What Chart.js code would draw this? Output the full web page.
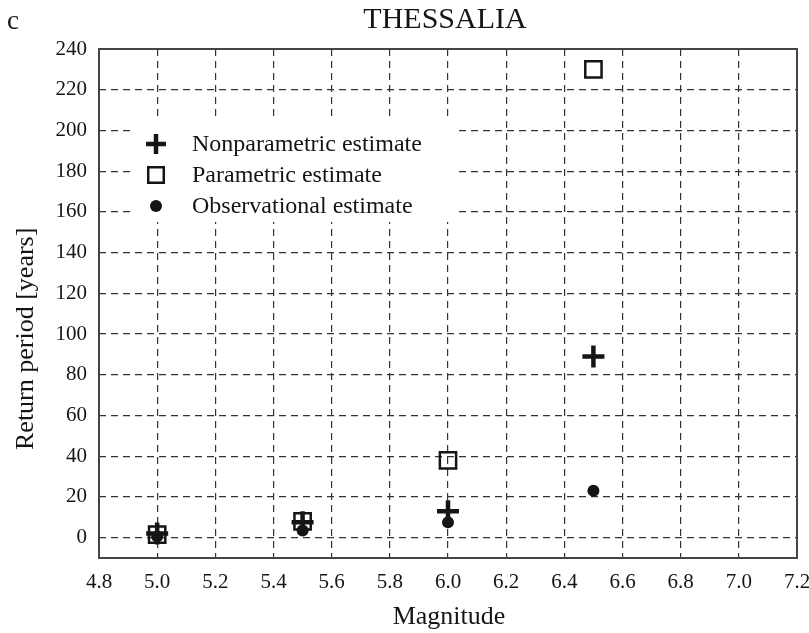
<!DOCTYPE html>
<html>
<head>
<meta charset="utf-8">
<script src="https://cdn.jsdelivr.net/npm/chart.js@4"></script>
<style>
  html, body { margin: 0; padding: 0; background: #fff; }
  #wrap { width: 809px; height: 633px; }
</style>
</head>
<body>
<div id="wrap"><canvas id="chart" width="809" height="633"></canvas></div>
<script>
const magnitudes = [5.0, 5.5, 6.0, 6.5];
const nonparametric = [2, 7.5, 13, 89];
const parametric = [1.5, 8, 38, 230];
const observational = [0.5, 3.5, 7.5, 23];

const xTicks = [4.8, 5.0, 5.2, 5.4, 5.6, 5.8, 6.0, 6.2, 6.4, 6.6, 6.8, 7.0, 7.2];
const yTicks = [0, 20, 40, 60, 80, 100, 120, 140, 160, 180, 200, 220, 240];

const seriesNames = ["Nonparametric estimate", "Parametric estimate", "Observational estimate"];

const serif = "'Liberation Serif', 'DejaVu Serif', serif";
const ink = "#151515";

const toPoints = (values) => magnitudes.map((x, i) => ({ x, y: values[i] }));

const markerStyles = [
  { pointStyle: "cross", pointRadius: 11, borderWidth: 4.5, borderColor: ink, backgroundColor: ink },
  { pointStyle: "rect", pointRadius: 11.5, borderWidth: 2.5, borderColor: ink, backgroundColor: "rgba(0,0,0,0)" },
  { pointStyle: "circle", pointRadius: 6, borderWidth: 0, borderColor: ink, backgroundColor: ink }
];

// frame, titles, panel letter and the legend box sitting inside the plot
const decorations = {
  id: "decorations",
  beforeDatasetsDraw(chart) {
    const { ctx, chartArea: a } = chart;
    ctx.save();
    ctx.strokeStyle = "#444";
    ctx.lineWidth = 2;
    ctx.strokeRect(a.left, a.top, a.right - a.left, a.bottom - a.top);
    ctx.restore();
  },
  afterDraw(chart) {
    const { ctx, chartArea: a } = chart;
    ctx.save();
    ctx.fillStyle = ink;
    ctx.textBaseline = "alphabetic";
    ctx.font = `30px ${serif}`;
    ctx.textAlign = "center";
    ctx.fillText("THESSALIA", 445, 28);

    ctx.textAlign = "left";
    ctx.font = `27px ${serif}`;
    ctx.fillText("c", 7, 29);

    ctx.font = `26px ${serif}`;
    ctx.textAlign = "center";
    ctx.fillText("Magnitude", 449, 624);

    ctx.save();
    ctx.translate(33, 450);
    ctx.rotate(-Math.PI / 2);
    ctx.textAlign = "left";
    ctx.fillText("Return period [years]", 0, 0);
    ctx.restore();

    ctx.fillStyle = "#fff";
    ctx.fillRect(131, 119, 327, 103);

    const rows = [144, 175, 206];
    ctx.font = `24px ${serif}`;
    ctx.textBaseline = "middle";
    ctx.textAlign = "left";
    rows.forEach((y, i) => {
      const s = markerStyles[i];
      ctx.strokeStyle = s.borderColor;
      ctx.fillStyle = s.backgroundColor;
      ctx.lineWidth = s.borderWidth;
      Chart.helpers.drawPoint(ctx, {
        pointStyle: s.pointStyle,
        radius: i === 0 ? 10 : i === 1 ? 11 : 6,
        borderWidth: s.borderWidth,
        rotation: 0
      }, 156, y);
      ctx.fillStyle = ink;
      ctx.fillText(seriesNames[i], 192, y + 1);
    });
    ctx.restore();
  }
};

const gridStyle = {
  color: "#333",
  lineWidth: 1.2,
  drawTicks: false
};

const dashedBorder = { display: false, dash: [7, 5] };

new Chart(document.getElementById("chart"), {
  type: "scatter",
  data: {
    datasets: [
      { label: seriesNames[0], data: toPoints(nonparametric), ...markerStyles[0] },
      { label: seriesNames[1], data: toPoints(parametric), ...markerStyles[1] },
      { label: seriesNames[2], data: toPoints(observational), ...markerStyles[2] }
    ]
  },
  options: {
    responsive: false,
    animation: false,
    layout: { autoPadding: false, padding: { top: 49, right: 12, left: 0, bottom: 0 } },
    plugins: {
      legend: { display: false },
      tooltip: { enabled: false }
    },
    scales: {
      x: {
        type: "linear",
        min: 4.8,
        max: 7.2,
        afterBuildTicks: (scale) => { scale.ticks = xTicks.map((value) => ({ value })); },
        afterFit: (scale) => {
          scale.height = 75;
          scale.paddingLeft = 0;
          scale.paddingRight = 0;
        },
        grid: gridStyle,
        border: dashedBorder,
        ticks: {
          padding: 12,
          color: ink,
          maxRotation: 0,
          autoSkip: false,
          font: { family: serif, size: 21 },
          callback: (value) => value.toFixed(1)
        }
      },
      y: {
        type: "linear",
        min: -10,
        max: 240,
        afterBuildTicks: (scale) => { scale.ticks = yTicks.map((value) => ({ value })); },
        afterFit: (scale) => {
          scale.width = 99;
          scale.paddingTop = 0;
          scale.paddingBottom = 0;
        },
        grid: gridStyle,
        border: dashedBorder,
        ticks: {
          padding: 12,
          color: ink,
          autoSkip: false,
          font: { family: serif, size: 21 }
        }
      }
    }
  },
  plugins: [decorations]
});
</script>
</body>
</html>
